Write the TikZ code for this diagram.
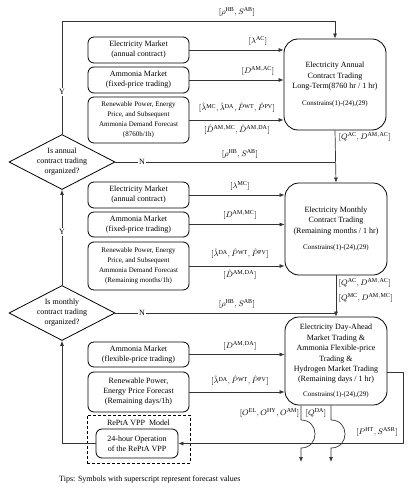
\documentclass[tikz,border=0pt]{standalone}
\usepackage{fontspec}
\setmainfont{Liberation Serif}
\usetikzlibrary{shapes.geometric,arrows.meta}

\begin{document}
\begin{tikzpicture}[x=1pt,y=-1pt,
	box/.style={draw,rounded corners=6pt,line width=0.8pt,minimum width=101pt,align=center,font=\fontsize{8}{10}\selectfont,inner sep=1pt},
	fcbox/.style={box,font=\fontsize{7}{10}\selectfont},
	trade/.style={draw,rounded corners=14pt,line width=0.8pt,minimum width=102pt,align=center,font=\fontsize{8}{10.4}\selectfont},
	decision/.style={draw,diamond,aspect=2,inner sep=0pt,line width=0.8pt,align=center,font=\fontsize{8}{10}\selectfont,minimum width=106pt,minimum height=55pt},
	line/.style={draw=black!80,line width=0.7pt},
	arr/.style={line,-{Latex[length=5pt,width=4pt]}},
	lbl/.style={font=\fontsize{8}{9}\selectfont,inner sep=0.5pt},
	yn/.style={fill=white,font=\fontsize{8}{9}\selectfont,inner sep=1.5pt}
	]
			% page
			\fill[white] (0,0) rectangle (415,495);
			\useasboundingbox (0,0) rectangle (415,495);
			
			% annual contract trading
			\node[box,minimum height=26pt] (em1) at (138.5,50) {Electricity Market\\(annual contract)};
			\node[box,minimum height=26pt] (am1) at (138.5,80) {Ammonia Market\\(fixed-price trading)};
			\node[fcbox,minimum height=46pt] (re1) at (138.5,120) {Renewable Power, Energy\\Price, and Subsequent\\Ammonia Demand Forecast\\(8760h/1h)};
			\node[trade,minimum height=91pt] (annual) at (335,84.5) {Electricity Annual\\Contract Trading\\Long-Term(8760 hr / 1 hr)\\[6pt]{\fontsize{7}{8}\selectfont Constrains(1)-(24),(29)}};
			
			% monthly contract trading
			\node[box,minimum height=26pt] (em2) at (138.5,195) {Electricity Market\\(annual contract)};
			\node[box,minimum height=25pt] (am2) at (138.5,224.5) {Ammonia Market\\(fixed-price trading)};
			\node[fcbox,minimum height=48pt] (re2) at (138.5,266) {Renewable Power, Energy\\Price, and Subsequent\\Ammonia Demand Forecast\\(Remaining months/1h)};
			\node[trade,minimum height=92pt] (monthly) at (336,229) {Electricity Monthly\\Contract Trading\\(Remaining months / 1 hr)\\[6pt]{\fontsize{7}{8}\selectfont Constrains(1)-(24),(29)}};
			
			% day-ahead trading
			\node[box,minimum height=25pt] (am3) at (138.5,354.5) {Ammonia Market\\(flexible-price trading)};
			\node[box,minimum height=40pt] (re3) at (138.5,392) {Renewable Power,\\Energy Price Forecast\\(Remaining days/1h)};
			\node[trade,minimum height=88pt] (dayahead) at (336,361) {Electricity Day-Ahead\\Market Trading \&\\Ammonia Flexible-price\\Trading \&\\Hydrogen Market Trading\\(Remaining days / 1 hr)\\[4pt]{\fontsize{7}{8}\selectfont Constrains(1)-(24),(29)}};
			
			% vpp model
			\node[draw,dash pattern=on 3pt off 2pt,line width=0.8pt,minimum width=103pt,minimum height=48pt] (vpp) at (138.5,439) {};
			\node[font=\fontsize{8}{9}\selectfont,inner sep=0pt] (vpptitle) at (138.5,423) {RePtA VPP\ \ Model};
			\node[box,minimum width=82pt,minimum height=29pt] (op) at (137,443.5) {24-hour Operation\\of the RePtA VPP};
			
			% decisions
			\node[decision] (d1) at (62,162) {Is annual\\contract trading\\organized?};
			\node[decision] (d2) at (62,313) {Is monthly\\contract trading\\organized?};
			
			% inputs
			\draw[arr] (em1.east) -- (em1.east -| annual.west);
			\draw[arr] (am1.east) -- (am1.east -| annual.west);
			\draw[arr] (re1.east) -- (re1.east -| annual.west);
			\draw[arr] (em2.east) -- (em2.east -| monthly.west);
			\draw[arr] (am2.east) -- (am2.east -| monthly.west);
			\draw[arr] (re2.east) -- (re2.east -| monthly.west);
			\draw[arr] (am3.east) -- (am3.east -| dayahead.west);
			\draw[arr] (re3.east) -- (re3.east -| dayahead.west);
			\node[lbl] (l1) at (258,41) {$[\lambda^{\mathrm{AC}}]$};
			\node[lbl] (l2) at (258,71) {$[D^{\mathrm{AM,AC}}]$};
			\node[lbl] (l3) at (237,108) {$[\hat{\lambda}^{\mathrm{MC}},\hat{\lambda}^{\mathrm{DA}},\hat{P}^{\mathrm{WT}},\hat{P}^{\mathrm{PV}}]$};
			\node[lbl] (l4) at (237,130) {$[\hat{D}^{\mathrm{AM,MC}},\hat{D}^{\mathrm{AM,DA}}]$};
			\node[lbl] (l5) at (240,186) {$[\lambda^{\mathrm{MC}}]$};
			\node[lbl] (l6) at (240,215) {$[D^{\mathrm{AM,MC}}]$};
			\node[lbl] (l7) at (240,254) {$[\hat{\lambda}^{\mathrm{DA}},\hat{P}^{\mathrm{WT}},\hat{P}^{\mathrm{PV}}]$};
			\node[lbl] (l8) at (240,275) {$[\hat{D}^{\mathrm{AM,DA}}]$};
			\node[lbl] (l9) at (240,346) {$[D^{\mathrm{AM,DA}}]$};
			\node[lbl] (l10) at (240,381) {$[\hat{\lambda}^{\mathrm{DA}},\hat{P}^{\mathrm{WT}},\hat{P}^{\mathrm{PV}}]$};
			
			% loops between the stages
			\coordinate (toploop) at (335,21);
			\draw[arr] (d1.north) |- (toploop) -- (annual.north);
			\node[lbl] (l11) at (237,12) {$[\rho^{\mathrm{HB}},S^{\mathrm{AB}}]$};
			\node[yn] (y1) at (62,92) {Y};
			\draw[line] (d1.east) -- (d1.east -| annual.south);
			\node[yn] (n1) at (142,162) {N};
			\draw[arr] (annual.south) -- (monthly.north);
			\node[lbl] (l12) at (240,154) {$[\rho^{\mathrm{HB}},S^{\mathrm{AB}}]$};
			\node[lbl,anchor=west] (l13) at (338,137) {$[Q^{\mathrm{AC}},D^{\mathrm{AM,AC}}]$};
			
			\draw[arr] (d2.north) -- (d1.south);
			\node[yn] (y2) at (62,232) {Y};
			\draw[line] (d2.east) -- (d2.east -| monthly.south);
			\node[yn] (n2) at (142,313) {N};
			\draw[arr] (monthly.south) -- (dayahead.north);
			\node[lbl] (l14) at (237,304) {$[\rho^{\mathrm{HB}},S^{\mathrm{AB}}]$};
			\node[lbl,anchor=west] (l15) at (338,283) {$[Q^{\mathrm{AC}},D^{\mathrm{AM,AC}}]$};
			\node[lbl,anchor=west] (l16) at (338,298) {$[Q^{\mathrm{MC}},D^{\mathrm{AM,MC}}]$};
			
			% feedback to the vpp
			\coordinate (fbtop) at (403,372);
			\draw[arr] (dayahead.east |- fbtop) -- (fbtop) |- (op.east);
			\node[lbl] (l17) at (377,432) {$[P^{\mathrm{HT}},S^{\mathrm{ASR}}]$};
			\draw[arr] (op.west) -| (d2.south);
			
			% outputs
			\coordinate (out1) at (301,462);
			\coordinate (out2) at (331,462);
			\draw[arr] (dayahead.south -| out1) -- (301,420) .. controls (319.7,420) and (319.7,448) .. (301,448) -- (out1);
			\draw[arr] (dayahead.south -| out2) -- (331,420) .. controls (349.7,420) and (349.7,448) .. (331,448) -- (out2);
			\node[lbl,anchor=east] (l18) at (300,413) {$[O^{\mathrm{EL}},O^{\mathrm{HY}},O^{\mathrm{AM}}]$};
			\node[lbl] (l19) at (316,413) {$[Q^{\mathrm{DA}}]$};
			
			% note
			\node[anchor=west,font=\fontsize{8}{9}\selectfont,inner sep=0pt] (tips) at (59,480) {Tips: Symbols with superscript represent forecast values};
		\end{tikzpicture}
\end{document}
